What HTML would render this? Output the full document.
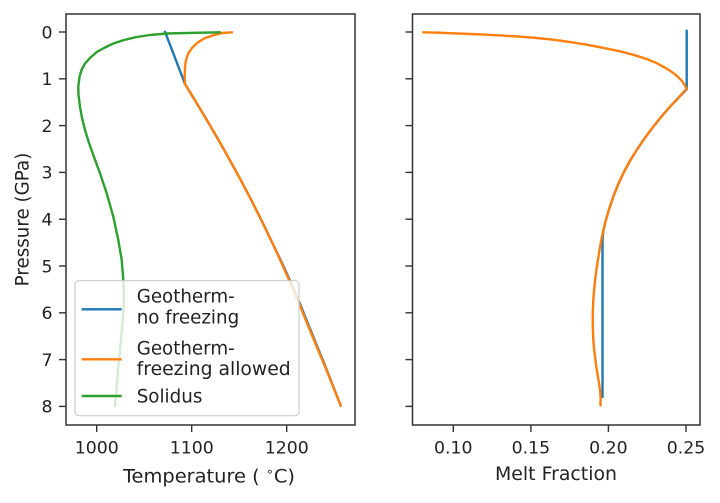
<!DOCTYPE html>
<html>
<head>
<meta charset="utf-8">
<style>
html,body{margin:0;padding:0;background:#fff;}
svg{display:block;}
text{font-family:"DejaVu Sans","Liberation Sans",sans-serif;fill:#222;}
</style>
</head>
<body>
<svg width="720" height="503" viewBox="0 0 720 503" xmlns="http://www.w3.org/2000/svg">
<rect x="0" y="0" width="720" height="503" fill="#fff"/>

<!-- ===== LEFT PANEL ===== -->
<g fill="none" stroke-linejoin="round" stroke-linecap="round" stroke-width="2.4">
  <!-- blue: geotherm no freezing -->
  <polyline stroke="#1f77b4" points="165,31.7 185,84 197.2,104 209.2,124 220.8,144 232,164 242.9,184 253.3,204 263.3,224 272.9,244 282.5,264 291.5,284 300,304 308.1,324 316.2,344 324.4,364 332.3,384 340.7,405.7"/>
  <!-- orange: geotherm freezing allowed -->
  <polyline stroke="#ff7f0e" points="232,32.3 222,33 213.3,35.2 204,38.5 196.7,43.3 192,48 188.3,53.3 186,60 185,66.7 184.7,75 185,84 197.2,104 209.2,124 220.8,144 232,164 242.9,184 253.3,204 263.3,224 272.9,244 282,264 290.8,284 299.3,304 307.4,324 315.6,344 324,364 332.1,384 340.7,405.7"/>
  <!-- green: solidus -->
  <polyline stroke="#2ca02c" points="220,32.3 195,32.8 166.7,33.5 150,35 136.7,37 124,40 113.3,43.5 104,48 96.7,52 90,58 85,63.5 81.5,70 79.5,77 78.3,86.7 78.5,95 80,106.7 82,118 85,130 89,143 93.3,155 100,173.3 106.7,193.3 113.3,216.7 118.3,240 121.7,260 123.3,280 124,295 123.5,310 121,340 118,370 115,406"/>
</g>

<!-- legend -->
<rect x="75" y="280.7" width="224" height="135" rx="4" ry="4" fill="#fff" fill-opacity="0.8" stroke="#cccccc" stroke-width="1.2"/>
<g stroke-width="2.4">
  <line x1="81.7" y1="309.3" x2="121.7" y2="309.3" stroke="#1f77b4"/>
  <line x1="81.7" y1="359.3" x2="121.7" y2="359.3" stroke="#ff7f0e"/>
  <line x1="81.7" y1="396" x2="121.7" y2="396" stroke="#2ca02c"/>
</g>
<g font-size="18.3">
  <text x="136.7" y="302.7" textLength="98" lengthAdjust="spacingAndGlyphs">Geotherm-</text>
  <text x="136.7" y="323.3">no freezing</text>
  <text x="136.7" y="354.3" textLength="98" lengthAdjust="spacingAndGlyphs">Geotherm-</text>
  <text x="136.7" y="375" textLength="154" lengthAdjust="spacingAndGlyphs">freezing allowed</text>
  <text x="136.7" y="402.7">Solidus</text>
</g>

<!-- left axes frame -->
<rect x="66" y="14" width="289" height="411" fill="none" stroke="#333" stroke-width="1.5"/>

<!-- left ticks -->
<g stroke="#333" stroke-width="1.4">
  <line x1="59" y1="32" x2="66" y2="32"/>
  <line x1="59" y1="78.8" x2="66" y2="78.8"/>
  <line x1="59" y1="125.6" x2="66" y2="125.6"/>
  <line x1="59" y1="172.4" x2="66" y2="172.4"/>
  <line x1="59" y1="219.2" x2="66" y2="219.2"/>
  <line x1="59" y1="266" x2="66" y2="266"/>
  <line x1="59" y1="312.8" x2="66" y2="312.8"/>
  <line x1="59" y1="359.6" x2="66" y2="359.6"/>
  <line x1="59" y1="406.4" x2="66" y2="406.4"/>
  <line x1="96.7" y1="425" x2="96.7" y2="432"/>
  <line x1="191.7" y1="425" x2="191.7" y2="432"/>
  <line x1="286.7" y1="425" x2="286.7" y2="432"/>
</g>
<g font-size="17.3" text-anchor="end">
  <text x="52.5" y="38.3">0</text>
  <text x="52.5" y="85.1">1</text>
  <text x="52.5" y="131.9">2</text>
  <text x="52.5" y="178.7">3</text>
  <text x="52.5" y="225.5">4</text>
  <text x="52.5" y="272.3">5</text>
  <text x="52.5" y="319.1">6</text>
  <text x="52.5" y="365.9">7</text>
  <text x="52.5" y="412.7">8</text>
</g>
<g font-size="17.3" text-anchor="middle">
  <text x="96.7" y="453.6">1000</text>
  <text x="191.7" y="453.6">1100</text>
  <text x="286.7" y="453.6">1200</text>
</g>
<text x="209" y="482.5" font-size="18.3" text-anchor="middle" textLength="172" lengthAdjust="spacingAndGlyphs">Temperature ( <tspan font-size="12" dy="-7">∘</tspan><tspan dy="7">C)</tspan></text>
<text transform="translate(28.5,219.5) rotate(-90)" font-size="18.3" text-anchor="middle">Pressure (GPa)</text>

<!-- ===== RIGHT PANEL ===== -->
<g fill="none" stroke-linejoin="round" stroke-linecap="round" stroke-width="2.4">
  <polyline stroke="#1f77b4" points="686.7,30.7 686.7,89.3 678.2,98 670,106.7 661.5,116.5 653.3,126.7 644.8,138 636.7,150 629.6,161.5 623.3,173.3 617.9,185 613.3,196.7 608.8,210 605,223.3 603.2,232 602.5,240 602.5,397"/>
  <polyline stroke="#ff7f0e" points="423.3,32.3 438,32.7 453.3,33.3 470,34 486.7,34.7 503,35.6 520,36.7 537,38 553.3,39.7 570,42 586.7,44.7 603,47.8 620,51.3 634,55 646.7,59 656,62.8 663.3,66.7 670.5,71 676.7,75.7 682,81 686.7,88.5 678.2,98 670,106.7 661.5,116.5 653.3,126.7 644.8,138 636.7,150 629.6,161.5 623.3,173.3 617.9,185 613.3,196.7 608.8,210 605,223.3 602.9,232 601.1,241 599.2,252 597.6,262 596.1,272 594.9,282 593.9,292 593.2,302 592.8,312 592.7,320 592.9,330 593.3,340 594,348 595,357 596.2,366 597.5,374 599,383 600,390 600.6,397 600.5,405.5"/>
</g>

<rect x="412.5" y="14" width="287.5" height="411" fill="none" stroke="#333" stroke-width="1.5"/>
<g stroke="#333" stroke-width="1.4">
  <line x1="405.5" y1="32" x2="412.5" y2="32"/>
  <line x1="405.5" y1="78.8" x2="412.5" y2="78.8"/>
  <line x1="405.5" y1="125.6" x2="412.5" y2="125.6"/>
  <line x1="405.5" y1="172.4" x2="412.5" y2="172.4"/>
  <line x1="405.5" y1="219.2" x2="412.5" y2="219.2"/>
  <line x1="405.5" y1="266" x2="412.5" y2="266"/>
  <line x1="405.5" y1="312.8" x2="412.5" y2="312.8"/>
  <line x1="405.5" y1="359.6" x2="412.5" y2="359.6"/>
  <line x1="405.5" y1="406.4" x2="412.5" y2="406.4"/>
  <line x1="453.3" y1="425" x2="453.3" y2="432"/>
  <line x1="530.9" y1="425" x2="530.9" y2="432"/>
  <line x1="608.4" y1="425" x2="608.4" y2="432"/>
  <line x1="686" y1="425" x2="686" y2="432"/>
</g>
<g font-size="17.3" text-anchor="middle">
  <text x="453.3" y="453.6">0.10</text>
  <text x="530.9" y="453.6">0.15</text>
  <text x="608.4" y="453.6">0.20</text>
  <text x="686" y="453.6">0.25</text>
</g>
<text x="556" y="480" font-size="18.3" text-anchor="middle" textLength="122" lengthAdjust="spacingAndGlyphs">Melt Fraction</text>
</svg>
</body>
</html>
